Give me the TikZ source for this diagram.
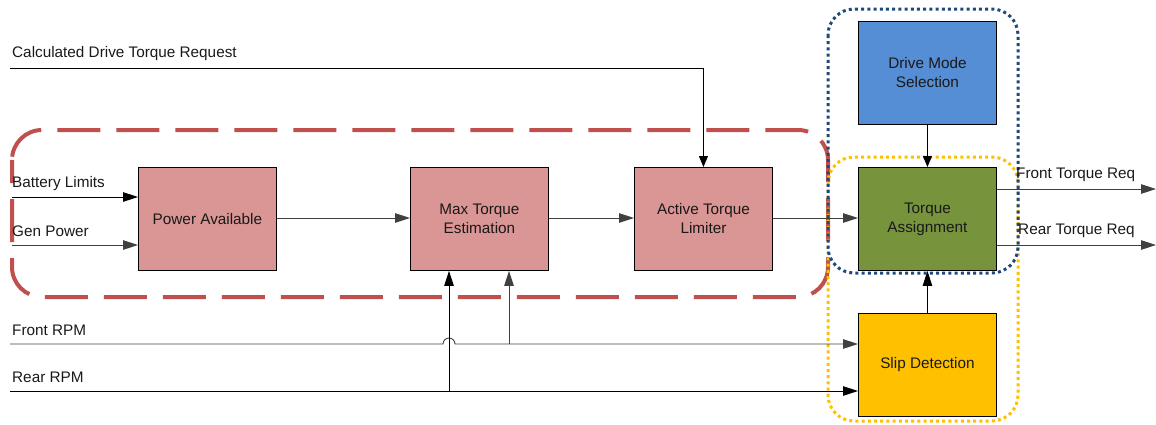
\documentclass[tikz,border=0pt]{standalone}
\usepackage{fontspec}
\setmainfont{Liberation Sans}
\usetikzlibrary{arrows.meta}
\definecolor{pinkbox}{HTML}{D99694}
\definecolor{bluebox}{HTML}{558ED5}
\definecolor{greenbox}{HTML}{77933C}
\definecolor{yellowbox}{HTML}{FFC000}
\definecolor{redgroup}{HTML}{C0504D}
\definecolor{bluegroup}{HTML}{1F497D}
\definecolor{wiregray}{HTML}{404040}
\begin{document}
\begin{tikzpicture}[x=1pt,y=-1pt,
  font=\fontsize{15.3}{19}\selectfont,
  block/.style={draw=black, line width=0.9pt, minimum width=138pt, minimum height=103pt,
    inner sep=0pt, anchor=north west, align=center, text=black!90},
  sig/.style={line width=0.9pt, -{Triangle[length=15pt,width=9.5pt]}},
  sigsmall/.style={line width=0.9pt, -{Triangle[length=11pt,width=9pt]}},
  lbl/.style={anchor=west, inner sep=0pt, text=black!90},
  redgrp/.style={draw=redgroup, line width=4pt, dash pattern=on 43pt off 16pt, rounded corners=30pt},
  dotgrp/.style={line width=3pt, dash pattern=on 3pt off 3.2pt, rounded corners=26pt}
]
\useasboundingbox (0,0) rectangle (1156,424);

% group outlines
\draw[redgrp, dash phase=20pt] (12,130) rectangle (828,297);
\draw[dotgrp, draw=yellowbox] (828,157) rectangle (1018,421);
\draw[dotgrp, draw=bluegroup] (828,9) rectangle (1018,273);

% function blocks
\node[block, fill=pinkbox] (pa) at (138,167) {Power Available};
\node[block, fill=pinkbox] (mte) at (410,167) {Max Torque\\Estimation};
\node[block, fill=pinkbox] (atl) at (634,167) {Active Torque\\Limiter};
\node[block, fill=bluebox] (dms) at (858,21) {Drive Mode\\Selection};
\node[block, fill=greenbox] (ta) at (858,167) {Torque\\Assignment};
\node[block, fill=yellowbox] (sd) at (858,313) {Slip Detection};

% free ends of the signal lines
\coordinate (calcin) at (10,68);
\coordinate (batin) at (12,197);
\coordinate (genin) at (12,245);
\coordinate (frontin) at (10,344);
\coordinate (rearin) at (10,391);
\coordinate (frontout) at (1156,189);
\coordinate (rearout) at (1156,245);

% signal labels
\node[lbl] (calclbl) at (12,54) {Calculated Drive Torque Request};
\node[lbl] (batlbl) at (12,184) {Battery Limits};
\node[lbl] (genlbl) at (12,231) {Gen Power};
\node[lbl] (frontlbl) at (12,330) {Front RPM};
\node[lbl] (rearlbl) at (12,377) {Rear RPM};
\node[lbl] (frontoutlbl) at (1016,175) {Front Torque Req};
\node[lbl] (rearoutlbl) at (1018,231) {Rear Torque Req};

% connectors
\draw[sigsmall, black] (calcin) -| (atl.north);
\draw[sig, black] (batin) -- (batin -| pa.west);
\draw[sig, wiregray] (genin) -- (genin -| pa.west);
\draw[sig, wiregray] (pa.east |- 0,218) -- (mte.west |- 0,218);
\draw[sig, wiregray] (mte.east |- 0,218) -- (atl.west |- 0,218);
\draw[sig, wiregray] (atl.east |- 0,218) -- (ta.west |- 0,218);
\draw[sigsmall, black] (dms.south) -- (ta.north);
\draw[sig, black] (sd.north) -- (ta.south);
\draw[sig, wiregray] (ta.east |- frontout) -- (frontout);
\draw[sig, wiregray] (ta.east |- rearout) -- (rearout);

% wheel speed inputs, with a hop where Front RPM crosses the Rear RPM branch
\draw[sig, wiregray] (frontin) -- (443,344) arc[start angle=180, end angle=0, radius=6pt]
  -- (sd.west |- frontin);
\draw[sig, wiregray] (509,344) -- (mte.south -| 509,0);
\draw[sig, black] (rearin) -- (sd.west |- rearin);
\draw[sig, black] (449,391) -- (mte.south -| 449,0);
\end{tikzpicture}
\end{document}
